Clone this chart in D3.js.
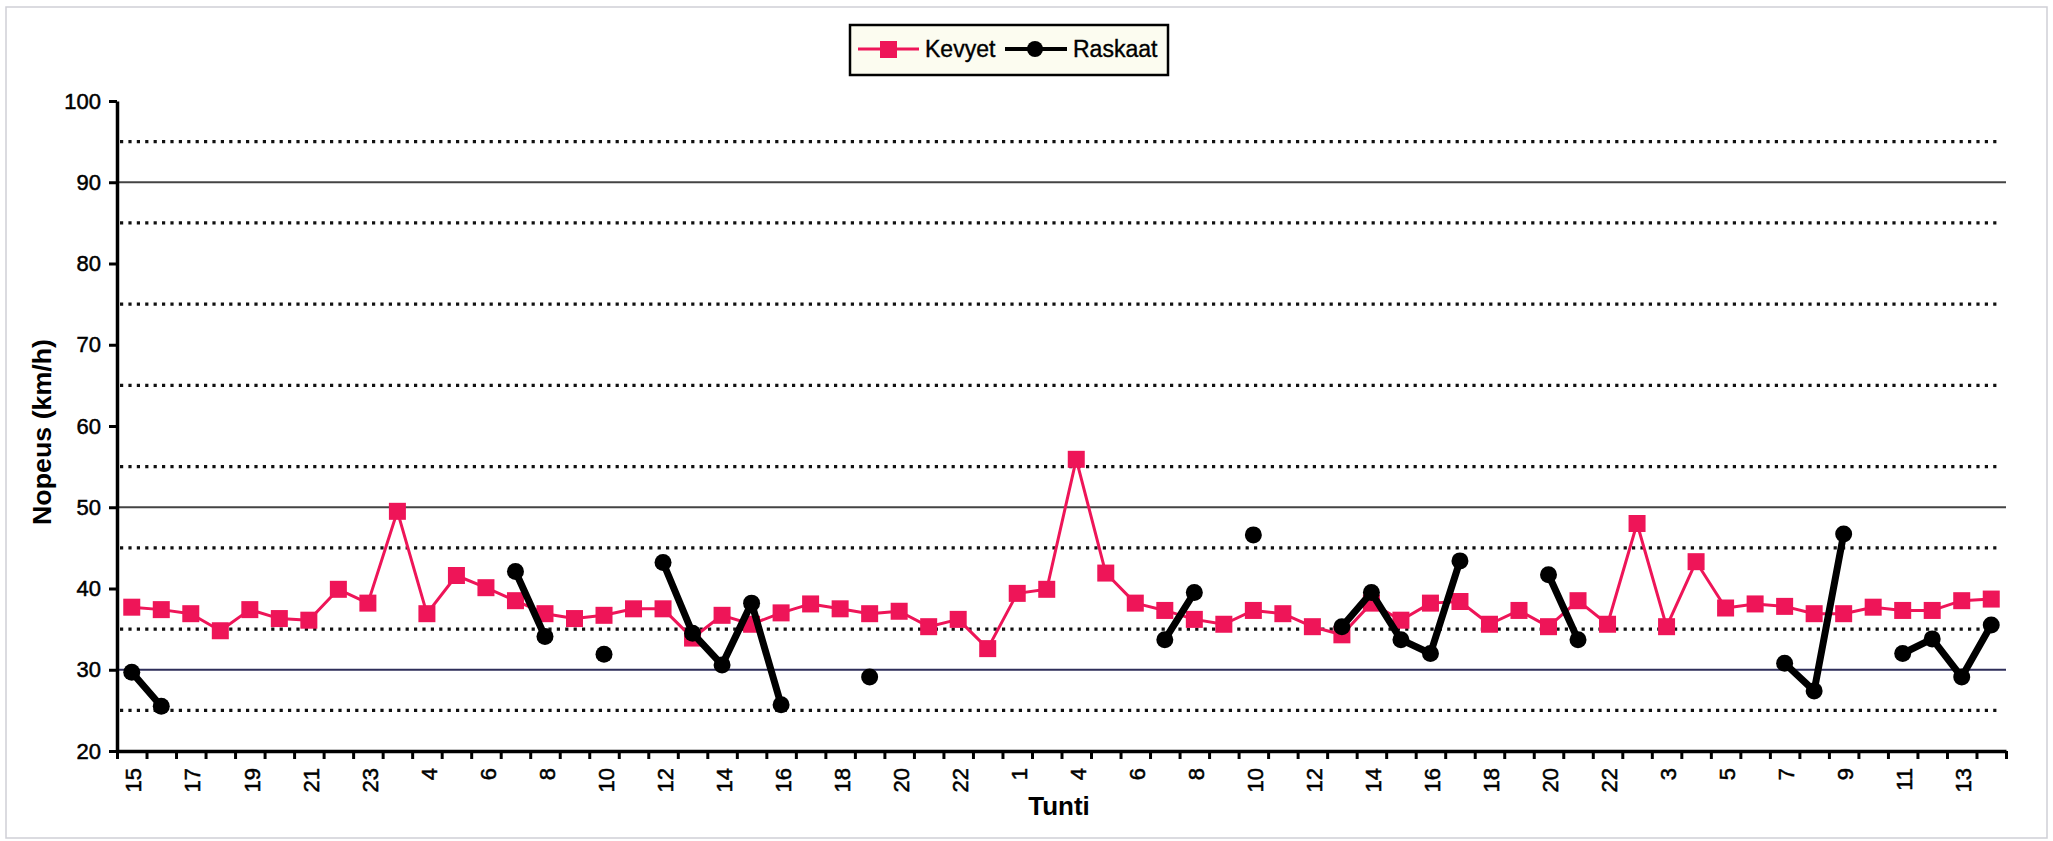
<!DOCTYPE html>
<html>
<head>
<meta charset="utf-8">
<script src="https://cdn.jsdelivr.net/npm/d3@7"></script>
<style>
  html, body { margin: 0; padding: 0; background: #ffffff; }
  svg { display: block; font-family: "Liberation Sans", Arial, sans-serif; }
</style>
</head>
<body>
<svg id="chart" width="2053" height="841"></svg>
<script>
// ---- data ----
const hours = [15,16,17,18,19,20,21,22,23,3,
  4,5,6,7,8,9,10,11,12,13,14,15,16,17,18,19,20,21,22,23,
  1,3,
  4,5,6,7,8,9,10,11,12,13,14,15,16,17,18,19,20,21,22,23,
  3,4,5,6,7,8,9,10,11,12,13,14];

const kevyet = [37.7,37.4,36.9,34.8,37.4,36.3,36.1,39.9,38.2,49.5,
  36.9,41.6,40.1,38.5,36.9,36.3,36.7,37.5,37.5,33.9,
  36.7,35.6,37.0,38.1,37.5,36.9,37.2,35.3,36.2,32.6,
  39.4,39.9,55.9,41.9,38.2,37.3,36.2,35.6,37.3,36.9,
  35.3,34.3,38.2,36.1,38.2,38.4,35.6,37.3,35.3,38.5,
  35.6,48.0,35.3,43.3,37.6,38.1,37.8,36.9,36.9,37.7,
  37.3,37.3,38.5,38.7];

const raskaat = [29.7,25.5,null,null,null,null,null,null,null,null,
  null,null,null,42.1,34.1,null,31.9,null,43.2,34.5,
  30.6,38.2,25.7,null,null,29.1,null,null,null,null,
  null,null,null,null,null,33.7,39.5,null,46.6,null,
  null,35.3,39.5,33.7,32.0,43.4,null,null,41.7,33.7,
  null,null,null,null,null,null,30.8,27.4,46.7,null,
  32.0,33.8,29.1,35.5];

const yTicks = [20,30,40,50,60,70,80,90,100];
const solidGrid = [30,50,90];
const dottedGrid = [25,35,45,55,65,75,85,95];
const seriesNames = ["Kevyet","Raskaat"];
const axisTitles = {x: "Tunti", y: "Nopeus (km/h)"};

(function () {
// ---- layout ----
const W = 2053, H = 841;
const pLeft = 117, pRight = 2006, pTop = 101, pBottom = 751;
const n = hours.length;
const pink = "#ee1558";

const svg = d3.select("#chart");

// outer border
svg.append("rect").attr("x", 6).attr("y", 7).attr("width", W - 12).attr("height", H - 10)
  .attr("fill", "#fff").attr("stroke", "#cfcfd6").attr("stroke-width", 1.5);

const x = d3.scaleBand().domain(d3.range(n)).range([pLeft, pRight]).padding(0);
const xb = d3.scaleLinear().domain([0, n]).range([pLeft, pRight]);
const y = d3.scaleLinear().domain([20, 100]).range([pBottom, pTop]);

// gridlines
svg.append("g").selectAll("line").data(dottedGrid).join("line")
  .attr("x1", pLeft + 3).attr("x2", pRight - 8)
  .attr("y1", d => y(d)).attr("y2", d => y(d))
  .attr("stroke", "#111").attr("stroke-width", 3.2).attr("stroke-dasharray", "3.2 5.2");
svg.append("g").selectAll("line").data(solidGrid).join("line")
  .attr("x1", pLeft).attr("x2", pRight)
  .attr("y1", d => y(d)).attr("y2", d => y(d))
  .attr("stroke", d => d === 30 ? "#2e2e5a" : "#444").attr("stroke-width", 2);

// y axis
const yAxis = svg.append("g").attr("transform", `translate(${pLeft},0)`)
  .call(d3.axisLeft(y).tickValues(yTicks).tickSize(8).tickSizeOuter(0).tickPadding(8));
yAxis.select(".domain").attr("stroke", "#000").attr("stroke-width", 3.5);
yAxis.selectAll(".tick line").attr("stroke", "#000").attr("stroke-width", 3);
yAxis.selectAll(".tick text").attr("fill", "#000").style("font-size", "22px")
  .attr("stroke", "#000").attr("stroke-width", 0.5);

// x axis: boundary ticks
const xAxisTicks = svg.append("g").attr("transform", `translate(0,${pBottom})`)
  .call(d3.axisBottom(xb).tickValues(d3.range(n + 1)).tickSize(8).tickSizeOuter(0).tickFormat(""));
xAxisTicks.select(".domain").attr("stroke", "#000").attr("stroke-width", 3.5);
xAxisTicks.selectAll(".tick line").attr("stroke", "#000").attr("stroke-width", 3);

// x axis: labels (every other category)
const xLabels = svg.append("g").attr("transform", `translate(2,${pBottom})`)
  .call(d3.axisBottom(x).tickValues(d3.range(0, n, 2)).tickSize(0).tickFormat(i => hours[i]));
xLabels.select(".domain").remove();
xLabels.selectAll(".tick text")
  .attr("transform", "rotate(-90)")
  .attr("x", -17).attr("y", 0).attr("dy", "0.35em")
  .style("text-anchor", "end").style("font-size", "22px").attr("fill", "#000")
  .attr("stroke", "#000").attr("stroke-width", 0.5);

// axis titles
svg.append("text").attr("x", 1059).attr("y", 815).attr("text-anchor", "middle")
  .style("font-size", "26px").style("font-weight", "bold").text(axisTitles.x);
svg.append("text").attr("transform", "translate(51,432) rotate(-90)")
  .attr("text-anchor", "middle").style("font-size", "25px").style("font-weight", "bold")
  .attr("textLength", 186).attr("lengthAdjust", "spacingAndGlyphs")
  .text(axisTitles.y);

const cx = i => x(i) + x.bandwidth() / 2;

// Kevyet
const lineK = d3.line().defined(d => d != null).x((d, i) => cx(i)).y(d => y(d));
svg.append("path").datum(kevyet).attr("d", lineK)
  .attr("fill", "none").attr("stroke", pink).attr("stroke-width", 3).attr("stroke-linejoin", "round");
svg.append("g").selectAll("rect").data(kevyet.map((v, i) => ({v, i})).filter(d => d.v != null)).join("rect")
  .attr("x", d => cx(d.i) - 8.5).attr("y", d => y(d.v) - 8.5)
  .attr("width", 17).attr("height", 17).attr("fill", pink);

// Raskaat
const lineR = d3.line().defined(d => d != null).x((d, i) => cx(i)).y(d => y(d));
svg.append("path").datum(raskaat).attr("d", lineR)
  .attr("fill", "none").attr("stroke", "#000").attr("stroke-width", 7).attr("stroke-linejoin", "round");
svg.append("g").selectAll("circle").data(raskaat.map((v, i) => ({v, i})).filter(d => d.v != null)).join("circle")
  .attr("cx", d => cx(d.i)).attr("cy", d => y(d.v)).attr("r", 8.5).attr("fill", "#000");

// legend
const lg = svg.append("g");
lg.append("rect").attr("x", 850).attr("y", 25).attr("width", 318).attr("height", 50)
  .attr("fill", "#fcfcf0").attr("stroke", "#000").attr("stroke-width", 2.5);
lg.append("line").attr("x1", 858).attr("x2", 919).attr("y1", 49).attr("y2", 49)
  .attr("stroke", pink).attr("stroke-width", 3);
lg.append("rect").attr("x", 880).attr("y", 41).attr("width", 17).attr("height", 17).attr("fill", pink);
lg.append("text").attr("x", 925).attr("y", 57).style("font-size", "23px")
  .attr("stroke", "#000").attr("stroke-width", 0.4).text(seriesNames[0]);
lg.append("line").attr("x1", 1005).attr("x2", 1067).attr("y1", 49).attr("y2", 49)
  .attr("stroke", "#000").attr("stroke-width", 4);
lg.append("circle").attr("cx", 1035).attr("cy", 49).attr("r", 8).attr("fill", "#000");
lg.append("text").attr("x", 1073).attr("y", 57).style("font-size", "23px")
  .attr("stroke", "#000").attr("stroke-width", 0.4).text(seriesNames[1]);
})();
</script>
</body>
</html>
